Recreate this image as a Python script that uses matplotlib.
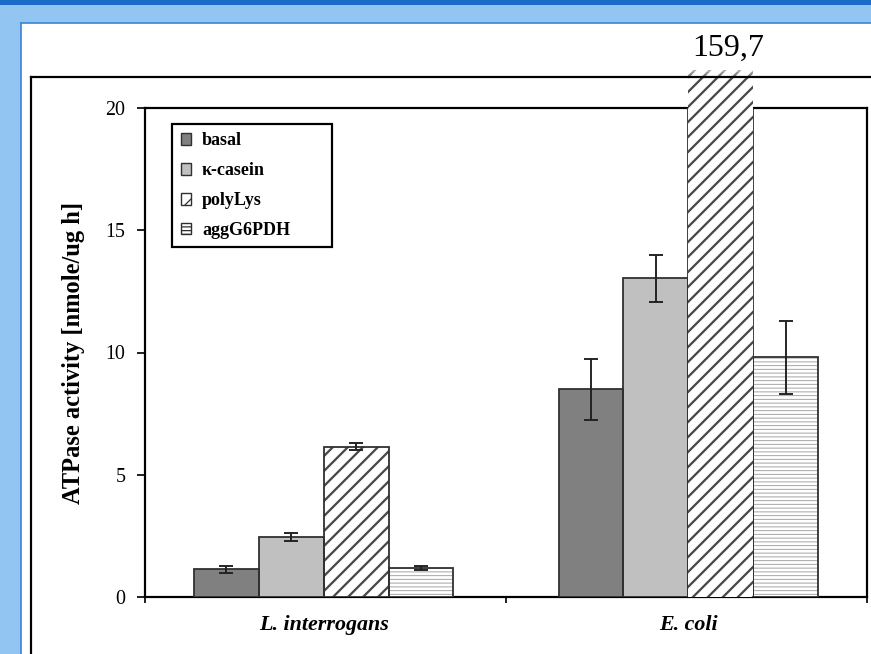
import numpy as np
import matplotlib
matplotlib.use("Agg")
import matplotlib.pyplot as plt
from matplotlib.patches import Rectangle, Patch
from matplotlib.lines import Line2D

plt.rcParams["font.family"] = ["Liberation Serif", "DejaVu Serif"]

# ATPase activity per organism and substrate (nmole/ug h)
organisms = ["L. interrogans", "E. coli"]
substrates = ["basal", "κ-casein", "polyLys", "aggG6PDH"]

basal = [1.13, 8.50]
basal_err = [0.14, 1.25]
casein = [2.45, 13.03]
casein_err = [0.17, 0.95]
polylys = [6.15, 159.7]
polylys_err = [0.14, np.nan]
agg_g6pdh = [1.20, 9.80]
agg_g6pdh_err = [0.08, 1.50]

y_ticks = [0, 5, 10, 15, 20]
y_max = 20
overflow_cap = 21.55  # how far an off-scale bar pokes above the frame

series = [basal, casein, polylys, agg_g6pdh]
errors = [basal_err, casein_err, polylys_err, agg_g6pdh_err]

W, H = 872, 654
DPI = 90  # sets the hatch density; all sizes below are given in pixels


def pt(px):
    return px * 72 / DPI


# fill, hatch, hatch colour, hatch linewidth (px)
STYLES = [
    ("#808080", None, None, 0),
    ("#c0c0c0", None, None, 0),
    ("white", "//", "#4a4a4a", 2.3),
    ("white", "----", "#a8a8a8", 1.0),
]
EDGE = "#303030"

fig = plt.figure(figsize=(W / DPI, H / DPI), dpi=DPI, facecolor="white")


def px_rect(x, y, w, h, **kw):
    """Rectangle in figure pixels, y measured from the top."""
    return Rectangle((x / W, 1 - (y + h) / H), w / W, h / H,
                     transform=fig.transFigure, **kw)


def px_line(xs, ys, **kw):
    return Line2D([x / W for x in xs], [1 - y / H for y in ys],
                  transform=fig.transFigure, **kw)


# window frame around the slide
fig.patches.append(px_rect(0, 0, W, 23, facecolor="#93c5f2", edgecolor="none"))
fig.patches.append(px_rect(0, 0, 21, H, facecolor="#93c5f2", edgecolor="none"))
fig.patches.append(px_rect(0, 0, W, 5, facecolor="#1b6cc6", edgecolor="none"))
fig.lines.append(px_line([20.5, 20.5], [22.5, H], color="#3f86d6", lw=pt(1.7)))
fig.lines.append(px_line([20.5, W], [22.5, 22.5], color="#3f86d6", lw=pt(1.7)))

# chart area border
fig.lines.append(px_line([31, W], [77, 77], color="black", lw=pt(2.2), zorder=1))
fig.lines.append(px_line([31, 31], [77, H], color="black", lw=pt(2.2), zorder=1))

ax = fig.add_axes([145 / W, 1 - 597 / H, 722 / W, 489 / H])
ax.set_facecolor("none")


def set_hatch_width(patch, px):
    if hasattr(patch, "set_hatch_linewidth"):
        patch.set_hatch_linewidth(pt(px))


bar_w = 0.178
x = np.arange(len(organisms))
for i, (vals, errs, style) in enumerate(zip(series, errors, STYLES)):
    fill, hatch, hcolor, hlw = style
    pos = x + (i - 1.5) * bar_w
    if hatch:
        bars = ax.bar(pos, vals, bar_w, color=fill, edgecolor=hcolor,
                      linewidth=0, hatch=hatch, zorder=3)
        for b in bars:
            set_hatch_width(b, hlw)
    else:
        ax.bar(pos, vals, bar_w, color=fill, linewidth=0, zorder=3)
    ax.bar(pos, vals, bar_w, facecolor="none", edgecolor=EDGE,
           linewidth=pt(1.8), zorder=3.5)
    ax.errorbar(pos, vals, yerr=errs, fmt="none", ecolor="#202020",
                elinewidth=pt(1.9), capsize=pt(7), capthick=pt(1.9), zorder=4)

    # off-scale bars run over the top of the frame, cut at a fixed height
    for xp, v in zip(pos, vals):
        if v > y_max:
            clip = Rectangle((xp - bar_w / 2, 0), bar_w, overflow_cap,
                             transform=ax.transData)
            over = Rectangle((xp - bar_w / 2, 0), bar_w, v, facecolor=fill,
                             edgecolor=hcolor, linewidth=0, hatch=hatch,
                             zorder=5)
            set_hatch_width(over, hlw)
            ax.add_patch(over)
            over.set_clip_path(clip)
            for k in range(4):
                ax.add_patch(Rectangle((xp - bar_w / 2, overflow_cap - (k + 1) * 0.08),
                                       bar_w, 0.08, facecolor="white",
                                       alpha=0.55 - 0.13 * k, edgecolor="none",
                                       zorder=6, clip_on=False))
            ax.text(xp + 0.02, 22.45, f"{v:.1f}".replace(".", ","),
                    ha="center", va="center", fontsize=pt(32))

ax.set_xlim(-0.49, 1.49)
ax.set_ylim(0, y_max)

for sp in ax.spines.values():
    sp.set_linewidth(pt(2.2))
    sp.set_color("black")
    sp.set_zorder(2.5)

ax.set_yticks(y_ticks)
ax.tick_params(axis="y", length=pt(8), width=pt(1.7), pad=pt(11.5),
               labelsize=pt(20))
ax.set_xticks(x)
ax.set_xticklabels(organisms, fontsize=pt(22), fontweight="bold",
                   fontstyle="italic")
ax.tick_params(axis="x", which="major", length=0, pad=pt(18))
ax.set_xticks([-0.49, 0.5, 1.49], minor=True)
ax.tick_params(axis="x", which="minor", length=pt(5.5), width=pt(1.7),
               direction="out")

ax.set_ylabel("ATPase activity [nmole/ug h]", fontsize=pt(24.5),
              fontweight="bold")
ax.yaxis.set_label_coords(-0.083, 0.5)

handles = []
for name, (fill, hatch, hcolor, hlw) in zip(substrates, STYLES):
    handles.append(Patch(facecolor=fill, edgecolor=EDGE, hatch=hatch,
                         linewidth=pt(1.4), label=name))
leg = ax.legend(handles=handles, loc="upper left",
                bbox_to_anchor=(0.038, 0.7155, 0.2216, 0.2515), mode="expand",
                borderaxespad=0, fancybox=False, framealpha=1,
                edgecolor="black", prop={"weight": "bold", "size": pt(18)},
                handlelength=0.6, handleheight=0.6, handletextpad=0.6,
                labelspacing=0.72, borderpad=0.45)
leg.get_frame().set_linewidth(pt(2.2))
leg.set_zorder(7)

fig.savefig("out.png", dpi=DPI, facecolor=fig.get_facecolor())
